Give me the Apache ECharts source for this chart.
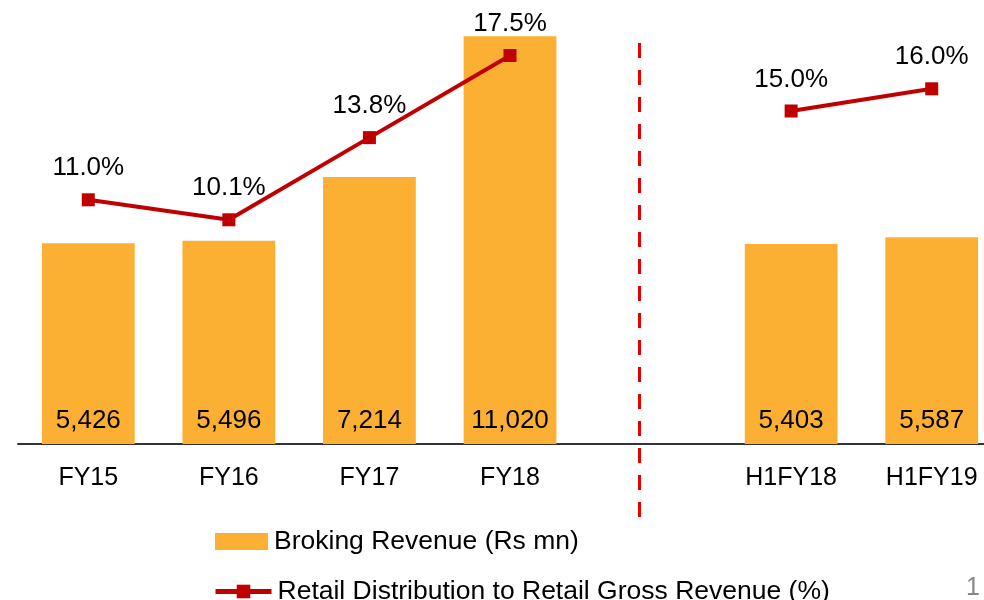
<!DOCTYPE html>
<html>
<head>
<meta charset="utf-8">
<script src="https://cdn.jsdelivr.net/npm/echarts@6/dist/echarts.min.js"></script>
<style>
  html, body { margin: 0; padding: 0; background: #fff; }
  #main { width: 984px; height: 600px; }
</style>
</head>
<body>
<div id="main"></div>
<script>
// categories, the empty slot sits where the divider goes
const categories = ['FY15', 'FY16', 'FY17', 'FY18', '', 'H1FY18', 'H1FY19']
const brokingRevenue = [5426, 5496, 7214, 11020, null, 5403, 5587]
const retailShare = [11.0, 10.1, 13.8, 17.5, null, 15.0, 16.0]
// divider position on a hidden value axis (-0.5 .. 6.5)
const dividerAt = 3.92

const font = 'Liberation Sans, Arial, sans-serif'
const barColor = '#FBB034'
const lineColor = '#C00000'
const fs = 26

const chart = echarts.init(document.getElementById('main'))

const legendText = { fontSize: fs + 0.5, color: '#000', fontFamily: font, padding: [0, 0, 0, 1] }

const option = {
  animation: false,
  textStyle: { fontFamily: font },
  grid: [
    { left: 18, right: -18, top: 0, bottom: 156, outerBoundsMode: 'none' },
    { left: 18, right: -18, top: 38, bottom: 83, outerBoundsMode: 'none' }
  ],
  legend: [
    {
      left: 210,
      top: 523,
      itemWidth: 53,
      itemHeight: 17,
      itemGap: 0,
      icon: 'rect',
      textStyle: legendText,
      data: ['Broking Revenue (Rs mn)']
    },
    {
      left: 208,
      top: 573,
      itemWidth: 56,
      itemHeight: 17,
      lineStyle: { width: 5 },
      textStyle: legendText,
      data: ['Retail Distribution to Retail Gross Revenue (%)']
    }
  ],
  xAxis: [
    {
      type: 'category',
      gridIndex: 0,
      data: categories,
      axisLine: { lineStyle: { color: '#333', width: 2 } },
      axisTick: { show: false },
      axisLabel: { fontSize: fs - 1, color: '#000', margin: 22, fontFamily: font }
    },
    {
      type: 'value',
      gridIndex: 1,
      min: -0.5,
      max: 6.5,
      show: false
    }
  ],
  yAxis: [
    { type: 'value', gridIndex: 0, min: 0, max: 12000, show: false },
    { type: 'value', gridIndex: 0, min: 0, max: 20, show: false },
    { type: 'value', gridIndex: 1, min: 0, max: 1, show: false }
  ],
  series: [
    {
      name: 'Broking Revenue (Rs mn)',
      type: 'bar',
      data: brokingRevenue,
      barWidth: '66%',
      itemStyle: { color: barColor },
      label: {
        show: true,
        position: 'insideBottom',
        distance: 10,
        fontSize: fs,
        color: '#000',
        fontFamily: font,
        formatter: p => p.value.toLocaleString('en-US')
      }
    },
    {
      name: 'Retail Distribution to Retail Gross Revenue (%)',
      type: 'line',
      yAxisIndex: 1,
      data: retailShare,
      connectNulls: false,
      symbol: 'rect',
      symbolSize: 13,
      lineStyle: { color: lineColor, width: 4 },
      itemStyle: { color: lineColor },
      label: {
        show: true,
        position: 'top',
        distance: 12,
        fontSize: fs,
        color: '#000',
        fontFamily: font,
        formatter: p => p.value.toFixed(1) + '%'
      }
    },
    {
      name: 'divider',
      type: 'line',
      xAxisIndex: 1,
      yAxisIndex: 2,
      data: [],
      silent: true,
      markLine: {
        symbol: 'none',
        label: { show: false },
        lineStyle: { color: '#E00000', width: 3, type: [15, 12] },
        data: [{ xAxis: dividerAt }]
      }
    }
  ],
  graphic: [
    {
      type: 'text',
      right: 4,
      top: 576,
      style: { text: '1', fontSize: fs - 1, fill: '#888', fontFamily: font }
    }
  ]
}

chart.setOption(option)
</script>
</body>
</html>
